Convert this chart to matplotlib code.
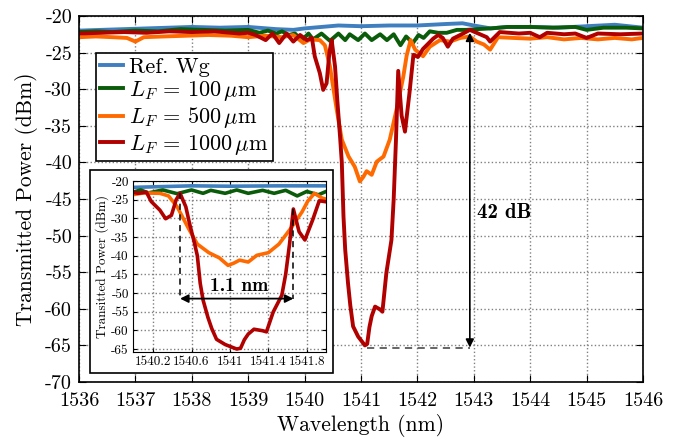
import numpy as np
import matplotlib
matplotlib.use('Agg')
import matplotlib.pyplot as plt
import matplotlib.ticker as ticker
from matplotlib.patches import Rectangle

plt.rcParams['font.family'] = 'serif'
plt.rcParams['font.serif'] = ['cmr10']
plt.rcParams['mathtext.fontset'] = 'cm'
plt.rcParams['axes.unicode_minus'] = False

# Ref. waveguide
wl_ref = [1536.0, 1536.4, 1536.8, 1537.2, 1537.6, 1538.0, 1538.5, 1539.0, 1539.5, 1539.8,
          1540.0, 1540.3, 1540.6, 1541.0, 1541.5, 1542.0, 1542.5, 1542.8, 1543.0, 1543.3,
          1543.6, 1544.0, 1544.5, 1545.0, 1545.5, 1546.0]
p_ref = [-22.0, -21.9, -21.8, -21.7, -21.6, -21.5, -21.6, -21.5, -21.8, -21.9,
         -21.7, -21.5, -21.3, -21.4, -21.3, -21.3, -21.1, -21.0, -21.3, -21.7,
         -21.5, -21.5, -21.6, -21.4, -21.2, -21.6]

# L_F = 100 um
wl_100 = [1536.0, 1536.3, 1536.6, 1537.0, 1537.4, 1537.8, 1538.2, 1538.6, 1539.0, 1539.2,
          1539.35, 1539.5, 1539.6, 1539.72, 1539.83, 1539.95, 1540.07, 1540.15, 1540.30, 1540.45,
          1540.60, 1540.72, 1540.80, 1540.95, 1541.07, 1541.19, 1541.34, 1541.46, 1541.58, 1541.70,
          1541.80, 1541.92, 1542.02, 1542.11, 1542.22, 1542.37, 1542.52, 1542.70, 1542.87, 1543.05,
          1543.3, 1543.6, 1544.0, 1544.4, 1544.8, 1545.0, 1545.3, 1545.7, 1546.0]
p_100 = [-22.2, -22.1, -22.2, -22.0, -22.1, -21.8, -21.9, -22.0, -21.9, -22.3,
         -22.0, -22.4, -22.1, -22.6, -22.4, -23.3, -22.4, -23.2, -22.4, -23.4,
         -22.4, -23.3, -22.5, -23.3, -22.4, -23.3, -22.5, -23.3, -22.5, -24.0,
         -22.8, -23.7, -22.6, -23.0, -22.1, -22.3, -22.3, -21.9, -21.9, -21.8,
         -21.7, -21.5, -21.5, -21.6, -21.5, -21.9, -21.6, -21.6, -21.7]

# L_F = 500 um
wl_500 = [1536.0, 1536.3, 1536.6, 1536.85, 1537.0, 1537.15, 1537.5, 1537.9, 1538.3, 1538.7,
          1539.0, 1539.3, 1539.6, 1539.8, 1539.98, 1540.1, 1540.27, 1540.36, 1540.45, 1540.57,
          1540.66, 1540.78, 1540.89, 1540.98, 1541.04, 1541.10, 1541.19, 1541.28, 1541.40, 1541.51,
          1541.63, 1541.75, 1541.81, 1541.88, 1541.96, 1542.10, 1542.22, 1542.40, 1542.58, 1542.76,
          1542.93, 1543.05, 1543.18, 1543.29, 1543.43, 1543.7, 1544.0, 1544.3, 1544.6, 1544.9,
          1545.2, 1545.5, 1545.8, 1546.0]
p_500 = [-22.9, -22.8, -22.9, -23.0, -23.5, -22.9, -22.8, -22.7, -22.6, -22.7,
         -22.9, -22.7, -22.9, -22.6, -23.7, -23.2, -23.3, -24.0, -26.9, -32.8,
         -36.9, -39.2, -40.6, -42.6, -42.0, -41.2, -41.7, -39.9, -39.2, -36.9,
         -32.8, -28.3, -25.4, -23.3, -24.6, -25.5, -24.2, -23.3, -23.5, -23.0,
         -22.8, -23.5, -23.9, -24.6, -22.9, -23.0, -23.1, -22.9, -23.2, -23.0,
         -23.2, -23.0, -23.2, -23.0]

# L_F = 1000 um
wl_1000 = [1536.0, 1536.4, 1536.8, 1537.2, 1537.6, 1538.0, 1538.4, 1538.84, 1539.0, 1539.13,
           1539.31, 1539.43, 1539.55, 1539.68, 1539.80, 1539.92, 1540.04, 1540.13, 1540.18, 1540.27,
           1540.33, 1540.39, 1540.44, 1540.48, 1540.54, 1540.58, 1540.63, 1540.66, 1540.69, 1540.72,
           1540.77, 1540.81, 1540.86, 1540.95, 1541.01, 1541.07, 1541.11, 1541.15, 1541.19, 1541.25,
           1541.34, 1541.38, 1541.45, 1541.54, 1541.58, 1541.62, 1541.66, 1541.72, 1541.78, 1541.86,
           1541.93, 1542.01, 1542.10, 1542.19, 1542.28, 1542.37, 1542.45, 1542.54, 1542.63, 1542.81,
           1542.93, 1543.05, 1543.23, 1543.29, 1543.46, 1543.8, 1544.0, 1544.17, 1544.3, 1544.6,
           1544.8, 1545.0, 1545.2, 1545.6, 1546.0]
p_1000 = [-22.4, -22.3, -22.2, -22.3, -22.1, -22.2, -22.1, -22.4, -22.3, -22.6,
          -23.3, -22.4, -23.7, -22.4, -23.5, -22.6, -23.3, -23.0, -25.5, -27.8,
          -30.1, -29.2, -25.0, -23.3, -26.9, -31.5, -36.6, -40.0, -47.4, -51.9,
          -56.5, -59.5, -62.4, -63.8, -64.4, -65.0, -64.8, -62.5, -61.0, -59.7,
          -60.1, -60.4, -55.1, -50.6, -45.0, -37.0, -27.5, -33.6, -35.8, -30.5,
          -25.3, -25.6, -24.5, -23.8, -23.1, -22.6, -23.0, -24.2, -23.1, -22.4,
          -21.9, -22.3, -22.9, -23.5, -22.2, -22.4, -22.3, -22.9, -22.3, -22.5,
          -22.4, -23.0, -22.4, -22.5, -22.4]

labels = ['Ref. Wg', r'$L_F\, =\, 100\,\mu$m', r'$L_F\, =\, 500\,\mu$m', r'$L_F\, =\, 1000\,\mu$m']
colors = ['#3f7fbf', '#0a5c0a', '#ff6a00', '#b00000']
series = [(wl_ref, p_ref), (wl_100, p_100), (wl_500, p_500), (wl_1000, p_1000)]

fig = plt.figure(figsize=(6.82, 4.41), dpi=100)
ax = fig.add_axes([0.1158, 0.1338, 0.827, 0.830])
for (x, y), c, lab in zip(series, colors, labels):
    ax.plot(x, y, color=c, lw=2.8, label=lab)

ax.set_xlim(1536, 1546)
ax.set_ylim(-70, -20)
ax.set_xticks(np.arange(1536, 1547, 1))
ax.set_yticks(np.arange(-70, -19, 5))
ax.xaxis.set_major_formatter(ticker.FormatStrFormatter('%g'))
ax.yaxis.set_major_formatter(ticker.FormatStrFormatter('%g'))
ax.tick_params(direction='in', top=True, right=True, length=5, labelsize=14.5)
ax.tick_params(axis='x', pad=7)
ax.tick_params(axis='y', pad=5)
ax.grid(True, linestyle=':', color='0.5', lw=1)
for s in ax.spines.values():
    s.set_linewidth(1.2)
ax.set_xlabel('Wavelength (nm)', fontsize=15.5, labelpad=3)
ax.set_ylabel('Transmitted Power (dBm)', fontsize=15.5, labelpad=5)

leg = ax.legend(loc='upper left', bbox_to_anchor=(0.03, 0.899), borderaxespad=0,
                fontsize=16, handlelength=1.0, handletextpad=0.3, labelspacing=0.1,
                borderpad=0.2, fancybox=False, framealpha=1, edgecolor='k')
leg.get_frame().set_linewidth(1.2)

# 42 dB annotation
ax.plot([1541.1, 1542.93], [-65.3, -65.3], linestyle='--', color='0.35', lw=1.3, dashes=(4, 3))
ax.annotate('', xy=(1542.93, -22.3), xytext=(1542.93, -65.3),
            arrowprops=dict(arrowstyle='<|-|>', color='k', lw=1.2, mutation_scale=12,
                            shrinkA=0, shrinkB=0))
ax.text(1543.05, -46.9, '42 dB', family='cmb10', fontsize=15, va='center', ha='left')

# inset box
fig.add_artist(Rectangle((0.132, 0.1542), 0.3563, 0.4603, transform=fig.transFigure,
                         facecolor='white', edgecolor='k', lw=1.2, zorder=1))

ins = fig.add_axes([0.195, 0.2018, 0.283, 0.3878], zorder=2)
for (x, y), c in zip(series, colors):
    ins.plot(x, y, color=c, lw=2.6)
ins.set_xlim(1539.99, 1542.0)
ins.set_ylim(-65.8, -20)
ins.set_xticks([1540.2, 1540.6, 1541.0, 1541.4, 1541.8])
ins.set_yticks(np.arange(-65, -19, 5))
ins.xaxis.set_major_formatter(ticker.FormatStrFormatter('%g'))
ins.yaxis.set_major_formatter(ticker.FormatStrFormatter('%g'))
ins.tick_params(direction='in', top=True, right=True, length=3, labelsize=9.5, pad=3)
ins.grid(True, linestyle=':', color='0.5', lw=1)
ins.set_ylabel('Transitted Power (dBm)', fontsize=9.5, labelpad=2)
ins.plot([1540.48, 1540.48], [-23.3, -51.5], linestyle='--', color='k', lw=1.1, dashes=(4, 3))
ins.plot([1541.66, 1541.66], [-27.5, -51.5], linestyle='--', color='k', lw=1.1, dashes=(4, 3))
ins.annotate('', xy=(1540.48, -51.5), xytext=(1541.66, -51.5),
             arrowprops=dict(arrowstyle='<|-|>', color='k', lw=1.3, mutation_scale=12,
                             shrinkA=0, shrinkB=0))
ins.text(1541.1, -50.6, '1.1 nm', family='cmb10', fontsize=14, va='bottom', ha='center')

fig.savefig('out.png', dpi=100)
